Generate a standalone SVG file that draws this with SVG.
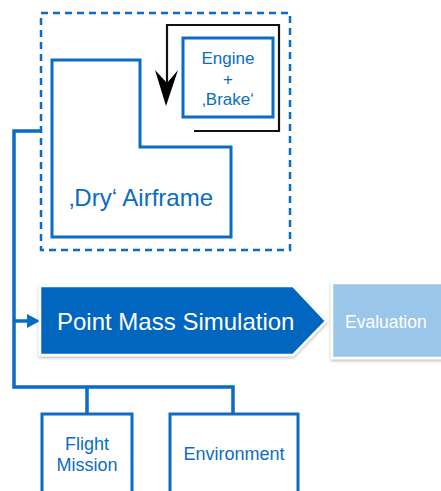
<svg xmlns="http://www.w3.org/2000/svg" width="441" height="491" viewBox="0 0 441 491">
<style>
.box{fill:#fff;stroke:#0A6CC4;stroke-width:3}
.conn{fill:none;stroke:#0A6CC4;stroke-width:3.5}
.bt{font-family:"Liberation Sans",Arial,sans-serif;fill:#0A6CC4;text-anchor:middle}
.wt{font-family:"Liberation Sans",Arial,sans-serif;fill:#fff}
</style>
<defs>
<filter id="sh" x="-10%" y="-10%" width="120%" height="130%">
<feDropShadow dx="0" dy="1.5" stdDeviation="1.5" flood-color="#000" flood-opacity="0.3"/>
</filter>
</defs>
<rect fill="#fff" width="441" height="491"/>
<g id="connectors">
<path class="conn" d="M41 131 H14 V387 H233 V414 M87 387 V414 M14 321 H28"/>
<path d="M27 314 L40 321 L27 328 Z" fill="#0A6CC4"/>
<path d="M194 131 H279 V25 H167 V90" fill="none" stroke="#111" stroke-width="2.2"/>
<path d="M155 70 L167 83 L178 70 L166 106 Z" fill="#000"/>
</g>
<g id="aircraft">
<rect x="41" y="13" width="249" height="237" fill="none" stroke="#0A6CC4" stroke-width="2.5" stroke-dasharray="7,5"/>
</g>
<g id="airframe">
<path class="box" d="M52 60 H140 V147 H231 V237 H52 Z"/>
<text class="bt" x="141" y="206" font-size="24">‚Dry‘ Airframe</text>
</g>
<g id="engine">
<rect class="box" x="183" y="38" width="90" height="79"/>
<text class="bt" x="228" y="64" font-size="17">Engine</text>
<text class="bt" x="228" y="85" font-size="17">+</text>
<text class="bt" x="228" y="105" font-size="17">‚Brake‘</text>
</g>
<g id="pms">
<path d="M40 286 H293 L326 321 L293 355 H40 Z" fill="#0466BF" stroke="#fff" stroke-width="2.5" filter="url(#sh)"/>
<text class="wt" x="57" y="330" font-size="24">Point Mass Simulation</text>
</g>
<g id="evaluation">
<rect x="332" y="283" width="112" height="75" fill="#9AC6EA" stroke="#fff" stroke-width="2.5" filter="url(#sh)"/>
<text class="wt" x="345" y="328" font-size="17.5">Evaluation</text>
</g>
<g id="flight-mission">
<rect class="box" x="42" y="414" width="90" height="85"/>
<text class="bt" x="87" y="450" font-size="18">Flight</text>
<text class="bt" x="87" y="471" font-size="18">Mission</text>
</g>
<g id="environment">
<rect class="box" x="170" y="414" width="128" height="85"/>
<text class="bt" x="234" y="460" font-size="18">Environment</text>
</g>
</svg>
